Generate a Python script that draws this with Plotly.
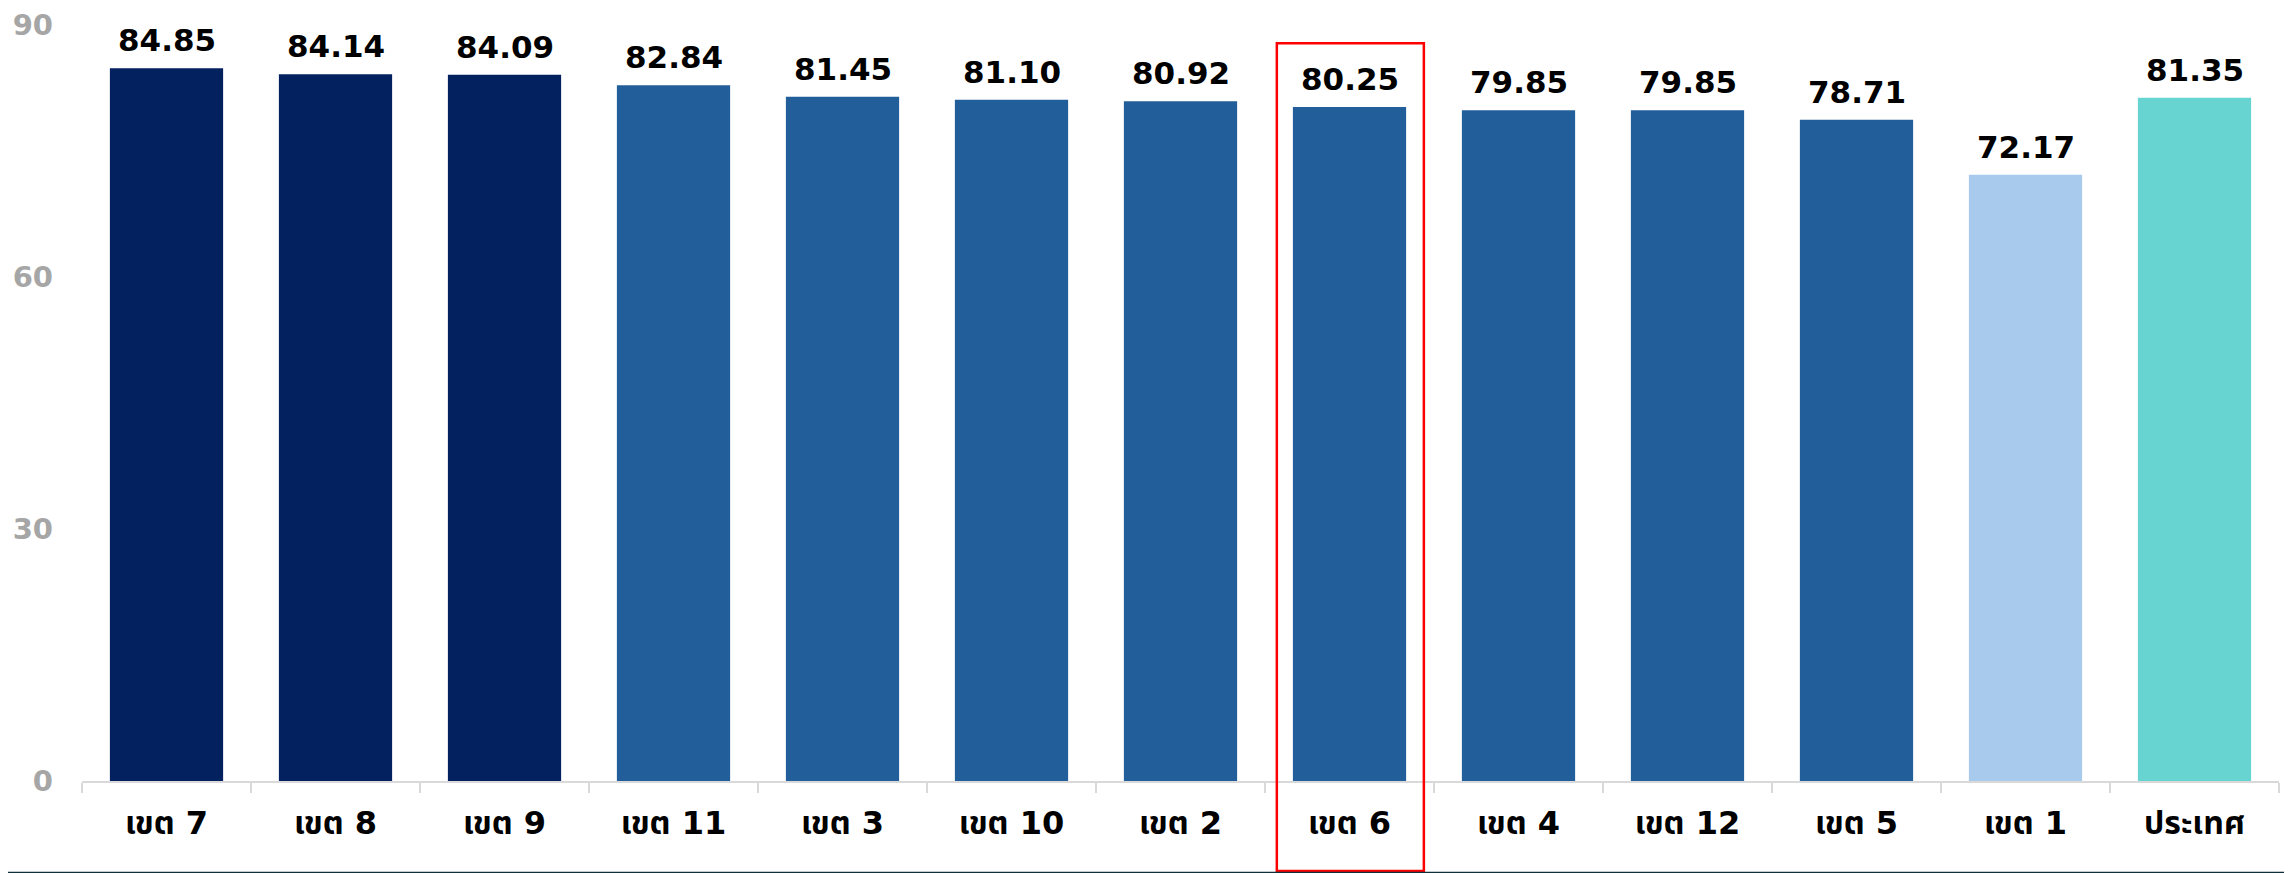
import plotly.graph_objects as go

categories = ["เขต 7", "เขต 8", "เขต 9", "เขต 11", "เขต 3", "เขต 10", "เขต 2",
              "เขต 6", "เขต 4", "เขต 12", "เขต 5", "เขต 1", "ประเทศ"]
values = [84.85, 84.14, 84.09, 82.84, 81.45, 81.10, 80.92, 80.25, 79.85, 79.85, 78.71, 72.17, 81.35]
value_labels = ["84.85", "84.14", "84.09", "82.84", "81.45", "81.10", "80.92",
                "80.25", "79.85", "79.85", "78.71", "72.17", "81.35"]
bar_colors = ["#03205F", "#03205F", "#03205F",
              "#225F9A", "#225F9A", "#225F9A", "#225F9A", "#225F9A",
              "#225F9A", "#225F9A", "#225F9A",
              "#A8CAEC", "#67D4D1"]
y_ticks = [0, 30, 60, 90]
highlight = "เขต 6"

FONT = "Tahoma, Verdana, 'DejaVu Sans', 'Noto Sans Thai', 'Noto Sans', sans-serif"

fig = go.Figure()
fig.add_trace(go.Bar(
    x=categories, y=values,
    marker=dict(color=bar_colors, line=dict(width=0)),
    hoverinfo="skip",
))

for c, v, t in zip(categories, values, value_labels):
    fig.add_annotation(x=c, y=v, text=f"<b>{t}</b>", showarrow=False,
                       yanchor="bottom", yshift=8,
                       font=dict(family=FONT, size=31, color="#000000"))

hi = categories.index(highlight)
fig.add_shape(type="rect", xref="x", yref="paper",
              x0=hi - 0.43, x1=hi + 0.44, y0=-0.119, y1=0.976,
              line=dict(color="#FF0000", width=2.5), fillcolor="rgba(0,0,0,0)")

fig.add_shape(type="line", xref="paper", yref="paper",
              x0=-0.05, x1=1.02, y0=-0.1215, y1=-0.1215,
              line=dict(color="#0F2F3A", width=2))

fig.update_layout(
    width=2284, height=865,
    margin=dict(l=74, r=13, t=17, b=92, autoexpand=False),
    paper_bgcolor="white", plot_bgcolor="white",
    bargap=0.33, showlegend=False,
    font=dict(family=FONT),
    xaxis=dict(
        automargin=False,
        showline=True, linecolor="#D9D9D9", linewidth=2,
        ticks="outside", tickson="boundaries", ticklen=10, tickcolor="#D9D9D9", tickwidth=2,
        tickfont=dict(family=FONT, size=32, color="#000000", weight="bold"),
        ticklabelstandoff=13,
        showgrid=False, fixedrange=True,
    ),
    yaxis=dict(
        automargin=False, ticklabeloverflow="allow",
        range=[0, 90], tickvals=y_ticks, ticktext=[str(t) for t in y_ticks],
        showgrid=False, zeroline=False, showline=False,
        tickfont=dict(family=FONT, size=29, color="#A6A6A6", weight="bold"),
        ticklabelstandoff=28, fixedrange=True,
    ),
)

fig.write_html("out.html")
